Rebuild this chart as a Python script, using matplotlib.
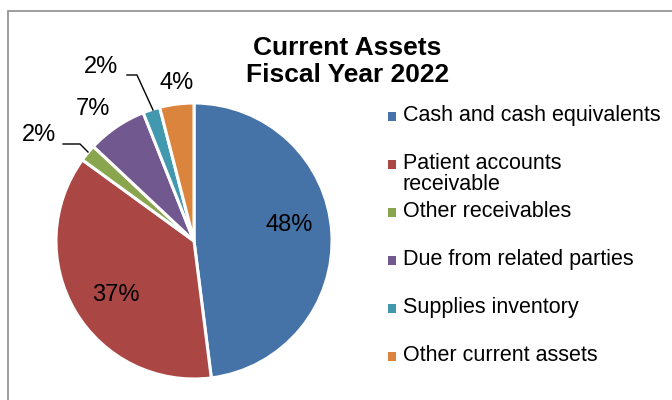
import matplotlib.pyplot as plt
from matplotlib.patches import Rectangle

# Current assets breakdown, fiscal year 2022 (percent of total)
categories = ['Cash and cash equivalents', 'Patient accounts\nreceivable', 'Other receivables',
              'Due from related parties', 'Supplies inventory', 'Other current assets']
shares = [48, 37, 2, 7, 2, 4]
colors = ['#4572A7', '#AA4643', '#89A54E', '#71588F', '#4198AF', '#DB843D']

# label spots (pixel coords, y measured from top) and leader lines for the thin slices
label_pos = [(289, 225), (116, 295), (39, 135), (93, 109), (101, 67), (177, 83)]
leaders = [None, None, [(63, 144), (80, 144), (88, 152)], None,
           [(127, 75), (137, 75), (153, 110)], None]

plt.rcParams['font.family'] = ['Liberation Sans', 'DejaVu Sans']

W, H = 672, 400
fig = plt.figure(figsize=(W / 100, H / 100), dpi=100)
ax = fig.add_axes([0, 0, 1, 1])

cx, cy, r = 194, H - 241, 138
explode = [0.03, 0, 0, 0, 0, 0]
ax.pie(shares, colors=colors, startangle=90, counterclock=False, center=(cx, cy), radius=r,
       explode=explode, wedgeprops=dict(edgecolor='white', linewidth=2.2), frame=True)
ax.set_xlim(0, W)
ax.set_ylim(0, H)
ax.set_aspect('equal')
ax.axis('off')

# chart frame, running off the right and bottom edges
ax.add_patch(Rectangle((7.5, -5), W, H - 10.5 + 5, fill=False, edgecolor='#8c8c8c', lw=1.2))

for val, (lx, ly), pts in zip(shares, label_pos, leaders):
    ax.text(lx, H - ly, f'{val}%', fontsize=17, ha='center', va='center', color='black')
    if pts is not None:
        ax.plot([p[0] for p in pts], [H - p[1] for p in pts], color='black', lw=1.0)

ax.text(347, H - 48, 'Current Assets', fontsize=19, fontweight='bold', ha='center', va='center')
ax.text(348, H - 75, 'Fiscal Year 2022', fontsize=19, fontweight='bold', ha='center', va='center')

# legend: one row per category, evenly stepped
y0, step = 116, 48
for i, (lab, col) in enumerate(zip(categories, colors)):
    y = H - (y0 + i * step)
    ax.add_patch(Rectangle((387.5, y - 4.5), 8.5, 8.5, facecolor=col, edgecolor='none'))
    ax.text(403, y + 11, lab, fontsize=15.5, ha='left', va='top', linespacing=1.02)

fig.savefig('out.png', dpi=100)
